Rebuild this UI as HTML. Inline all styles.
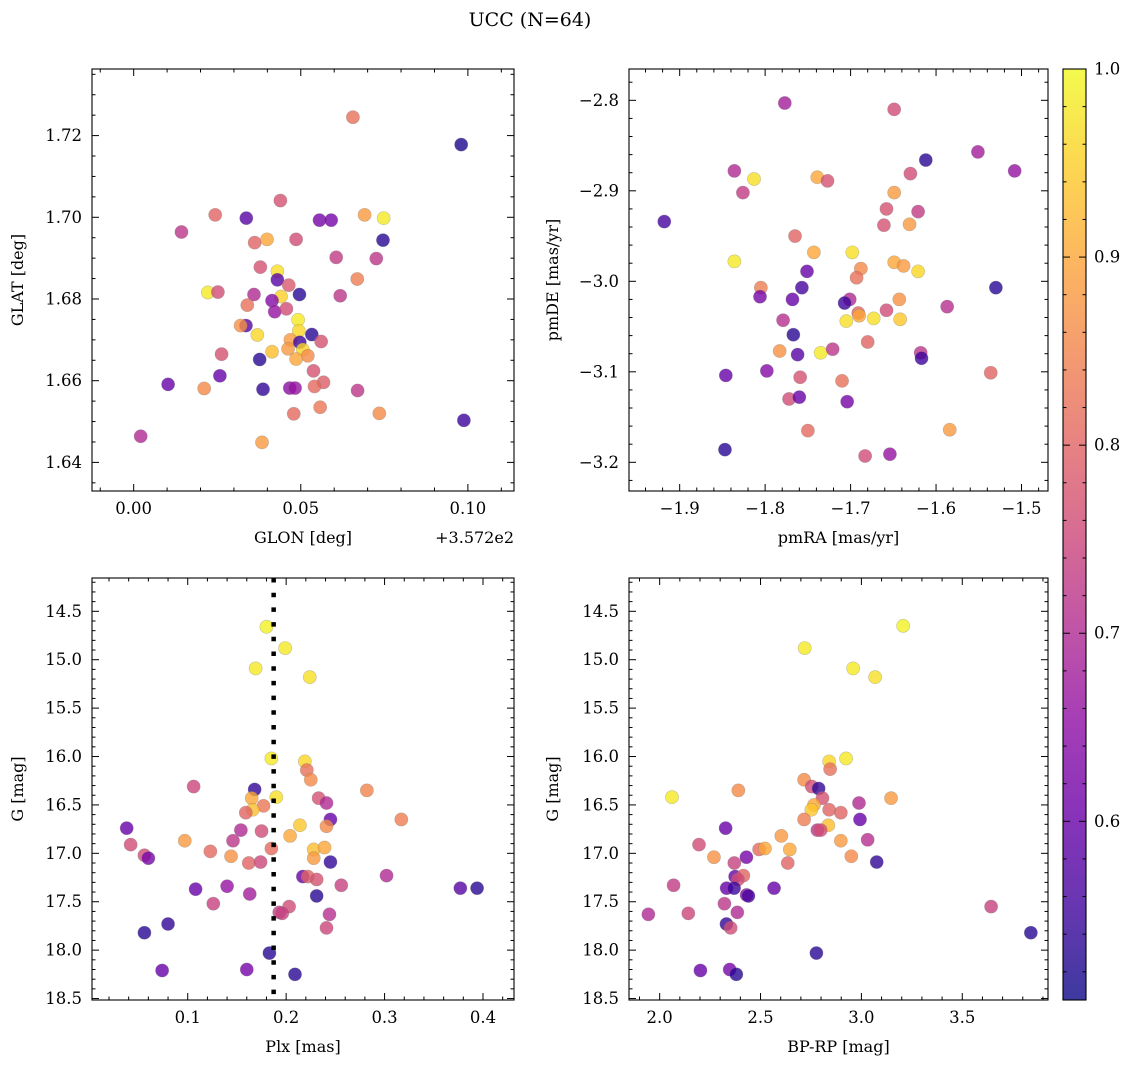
<!DOCTYPE html>
<html><head><meta charset="utf-8"><style>
html,body{margin:0;padding:0;background:#fff}
svg text{font-family:"DejaVu Serif","Liberation Serif",serif;fill:#000}
</style></head><body>
<svg id="fig" width="1135" height="1068" xmlns="http://www.w3.org/2000/svg">
<defs><linearGradient id="cbgrad" x1="0" y1="1" x2="0" y2="0">
<stop offset="0" stop-color="#0d0887"/><stop offset="0.1" stop-color="#41049d"/><stop offset="0.2" stop-color="#6a00a8"/><stop offset="0.3" stop-color="#8f0da4"/><stop offset="0.4" stop-color="#b12a90"/><stop offset="0.5" stop-color="#cc4778"/><stop offset="0.6" stop-color="#e16462"/><stop offset="0.7" stop-color="#f2844b"/><stop offset="0.8" stop-color="#fca636"/><stop offset="0.9" stop-color="#fcce25"/><stop offset="1" stop-color="#f0f921"/>
</linearGradient></defs>
<text x="530" y="26" font-size="19" text-anchor="middle">UCC (N=64)</text>
</svg>
<script>
// Panel 1: GLON offset (+357.2), GLAT
const p1X=[.0656,.098,.0439,.0244,.0337,.0556,.0591,.0691,.0748,.0143,.0362,.0399,.0486,.0746,.0606,.0726,.0379,.043,.043,.0464,.0669,.0222,.0252,.036,.0441,.0496,.0618,.0414,.034,.0422,.0457,.0492,.0336,.032,.037,.0494,.0533,.0469,.0561,.0497,.0462,.0506,.0414,.0263,.0521,.0486,.0377,.0538,.0258,.0103,.0568,.0541,.0211,.0387,.0467,.0483,.067,.0479,.0558,.0735,.0988,.0021,.0384];
const p1Y=[1.7245,1.7178,1.7041,1.7006,1.6998,1.6993,1.6993,1.7006,1.6998,1.6964,1.6938,1.6946,1.6946,1.6944,1.6902,1.6899,1.6878,1.6868,1.6847,1.6834,1.6849,1.6816,1.6817,1.6811,1.6806,1.6811,1.6808,1.6796,1.6785,1.6769,1.6776,1.6749,1.6735,1.6735,1.6712,1.6722,1.6713,1.67,1.6696,1.6694,1.6678,1.6676,1.6671,1.6665,1.6661,1.6653,1.6652,1.6624,1.6612,1.6591,1.6596,1.6586,1.6581,1.6579,1.6582,1.6582,1.6576,1.6519,1.6535,1.652,1.6503,1.6464,1.6449];
const p1C=[.82,.52,.77,.8,.58,.62,.62,.88,.98,.72,.8,.9,.76,.53,.73,.72,.77,.97,.58,.78,.84,.98,.76,.7,.95,.53,.72,.64,.82,.66,.76,.98,.58,.87,.96,.96,.53,.88,.77,.55,.88,.96,.93,.77,.86,.9,.53,.77,.6,.6,.79,.81,.86,.54,.65,.66,.72,.81,.83,.86,.55,.7,.88];
// Panel 2: pmRA, pmDE
const p2X=[-1.777,-1.649,-1.551,-1.612,-1.508,-1.836,-1.813,-1.739,-1.727,-1.826,-1.630,-1.649,-1.918,-1.658,-1.621,-1.661,-1.631,-1.765,-1.743,-1.698,-1.836,-1.649,-1.638,-1.621,-1.688,-1.751,-1.693,-1.805,-1.757,-1.530,-1.806,-1.768,-1.701,-1.707,-1.643,-1.587,-1.691,-1.690,-1.658,-1.705,-1.673,-1.642,-1.779,-1.767,-1.783,-1.762,-1.735,-1.721,-1.680,-1.618,-1.617,-1.846,-1.798,-1.759,-1.536,-1.710,-1.772,-1.760,-1.704,-1.750,-1.584,-1.847,-1.683,-1.654];
const p2Y=[-2.803,-2.810,-2.857,-2.866,-2.878,-2.878,-2.887,-2.885,-2.889,-2.902,-2.881,-2.902,-2.934,-2.920,-2.923,-2.938,-2.937,-2.950,-2.968,-2.968,-2.978,-2.979,-2.983,-2.989,-2.986,-2.989,-2.996,-3.007,-3.007,-3.007,-3.017,-3.020,-3.020,-3.024,-3.020,-3.028,-3.035,-3.038,-3.032,-3.044,-3.041,-3.042,-3.043,-3.059,-3.077,-3.081,-3.079,-3.075,-3.067,-3.079,-3.085,-3.104,-3.099,-3.106,-3.101,-3.110,-3.130,-3.128,-3.133,-3.165,-3.164,-3.186,-3.193,-3.191];
const p2C=[.68,.76,.68,.53,.66,.7,.97,.9,.77,.73,.76,.88,.56,.77,.73,.77,.88,.8,.9,.97,.98,.9,.88,.96,.86,.6,.82,.84,.56,.53,.62,.6,.7,.55,.87,.71,.8,.9,.76,.97,.97,.94,.71,.53,.87,.58,.98,.72,.8,.72,.55,.6,.64,.77,.8,.82,.76,.6,.62,.81,.88,.53,.76,.66];
// Panel 3: Plx, G
const p3X=[.180,.199,.169,.224,.185,.219,.221,.225,.106,.168,.282,.190,.165,.233,.241,.177,.166,.159,.245,.317,.038,.214,.241,.154,.175,.204,.097,.146,.042,.185,.228,.239,.123,.144,.056,.060,.228,.162,.174,.245,.302,.217,.222,.231,.256,.108,.140,.163,.377,.394,.231,.126,.203,.193,.196,.244,.241,.080,.056,.183,.074,.160,.209];
const p3Y=[14.66,14.88,15.09,15.18,16.02,16.05,16.14,16.24,16.31,16.34,16.35,16.42,16.43,16.43,16.48,16.51,16.55,16.58,16.65,16.65,16.74,16.71,16.72,16.76,16.77,16.82,16.87,16.87,16.91,16.95,16.96,16.94,16.98,17.03,17.02,17.05,17.05,17.10,17.09,17.09,17.23,17.24,17.24,17.27,17.33,17.37,17.34,17.42,17.36,17.36,17.44,17.52,17.55,17.61,17.62,17.63,17.77,17.73,17.82,18.03,18.21,18.20,18.25];
const p3C=[.99,.98,.98,.97,.98,.96,.82,.86,.75,.54,.85,.97,.9,.77,.7,.83,.93,.8,.6,.84,.6,.94,.86,.7,.76,.9,.88,.72,.76,.81,.93,.9,.81,.87,.76,.62,.88,.8,.75,.54,.7,.6,.8,.77,.74,.6,.66,.68,.58,.53,.53,.74,.76,.73,.74,.71,.75,.54,.53,.53,.6,.62,.53];
const plxLine=[0.1873];
// Panel 4: BP-RP, G
const p4X=[3.207,2.719,2.959,3.068,2.840,2.924,2.845,2.716,2.754,2.788,2.390,2.061,2.807,3.147,2.988,2.765,2.752,2.840,2.898,2.716,2.993,2.327,2.836,2.782,2.798,2.603,2.898,3.031,2.195,2.493,2.522,2.645,2.269,2.430,2.950,2.370,2.635,3.076,2.374,2.415,2.388,2.069,2.332,2.369,2.567,2.431,2.440,2.321,1.944,2.142,2.385,3.643,2.331,2.352,3.840,2.777,2.202,2.347,2.380];
const p4Y=[14.65,14.88,15.09,15.18,16.05,16.02,16.13,16.24,16.31,16.33,16.35,16.42,16.43,16.43,16.48,16.5,16.55,16.55,16.58,16.65,16.65,16.74,16.71,16.76,16.76,16.82,16.87,16.86,16.91,16.96,16.95,16.96,17.04,17.04,17.03,17.10,17.10,17.09,17.24,17.23,17.27,17.33,17.36,17.36,17.36,17.43,17.44,17.52,17.63,17.62,17.61,17.55,17.73,17.77,17.82,18.03,18.21,18.20,18.25];
const p4C=[.99,.98,.98,.97,.96,.98,.82,.86,.76,.54,.86,.98,.77,.88,.7,.9,.94,.8,.8,.84,.6,.6,.93,.72,.76,.88,.88,.71,.76,.81,.9,.9,.87,.62,.86,.74,.8,.54,.6,.8,.76,.73,.6,.55,.6,.65,.56,.72,.7,.75,.7,.74,.54,.76,.53,.53,.6,.62,.53];
const cbTicks=[0.6,0.7,0.8,0.9,1.0];
const VMIN=0.505,VMAX=1.0;

const NS="http://www.w3.org/2000/svg";
const svg=document.getElementById('fig');
const stops=[[13,8,135],[65,4,157],[106,0,168],[143,13,164],[177,42,144],[204,71,120],[225,100,98],[242,132,75],[252,166,54],[252,206,37],[240,249,33]];
function plasma(v){let t=Math.max(0,Math.min(1,(v-VMIN)/(VMAX-VMIN)))*10;let i=Math.min(9,Math.floor(t)),f=t-i;const a=stops[i],b=stops[i+1];return 'rgb('+a.map((c,k)=>Math.round(c+(b[k]-c)*f)).join(',')+')';}
function mk(tag,attrs,parent){const e=document.createElementNS(NS,tag);for(const k in attrs)e.setAttribute(k,attrs[k]);(parent||svg).appendChild(e);return e;}
function fmt(v,d){let s=v.toFixed(d);return s.replace('-','\u2212');}
const FS=16.5;

function panel(cfg){
  const g=mk('g',{});
  
  
  const {L,T,R,B,x0,x1,y0,y1}=cfg;
  const sx=v=>L+(v-x0)/(x1-x0)*(R-L);
  const sy=v=>cfg.invert? T+(v-y0)/(y1-y0)*(B-T) : B-(v-y0)/(y1-y0)*(B-T);
  for(let i=0;i<cfg.xs.length;i++){
    const c=mk('circle',{cx:sx(cfg.xs[i]),cy:sy(cfg.ys[i]),r:6.6,fill:plasma(cfg.cs[i]),'fill-opacity':0.8,stroke:'#777','stroke-opacity':0.4,'stroke-width':0.6},g);
    
    
  }
  if(cfg.vline){const vx=sx(cfg.vline[0]);const ln=mk('line',{x1:vx,x2:vx,y1:T,y2:B,stroke:'#000','stroke-width':4.5,'stroke-dasharray':'4.5 10.2'},g);
    }
  const fr=mk('rect',{x:L,y:T,width:R-L,height:B-T,fill:'none',stroke:'#000','stroke-width':1.1},g);
  
  const xt=mk('g',{},g);
  for(let v=Math.ceil(x0/cfg.xmin-1e-6)*cfg.xmin;v<=x1+1e-9;v+=cfg.xmin){
    const px=sx(v);const isMaj=Math.abs(v/cfg.xmaj-Math.round(v/cfg.xmaj))<1e-4;const len=isMaj?7:3.5;
    mk('line',{x1:px,x2:px,y1:B,y2:B-len,stroke:'#000','stroke-width':1},xt);
    mk('line',{x1:px,x2:px,y1:T,y2:T+len,stroke:'#000','stroke-width':1},xt);
    if(isMaj){const t=mk('text',{x:px,y:B+23,'font-size':FS,'text-anchor':'middle'},xt);t.textContent=fmt(v,cfg.xd);
      }
  }
  const yt=mk('g',{},g);
  for(let v=Math.ceil(y0/cfg.ymin-1e-6)*cfg.ymin;v<=y1+1e-9;v+=cfg.ymin){
    const py=sy(v);const isMaj=Math.abs(v/cfg.ymaj-Math.round(v/cfg.ymaj))<1e-4;const len=isMaj?7:3.5;
    mk('line',{x1:L,x2:L+len,y1:py,y2:py,stroke:'#000','stroke-width':1},yt);
    mk('line',{x1:R,x2:R-len,y1:py,y2:py,stroke:'#000','stroke-width':1},yt);
    if(isMaj){const t=mk('text',{x:L-10,y:py+5.5,'font-size':FS,'text-anchor':'end'},yt);t.textContent=fmt(v,cfg.yd);
      }
  }
  const xl=mk('text',{x:(L+R)/2,y:B+52,'font-size':16,'text-anchor':'middle'},g);xl.textContent=cfg.xlab;
  
  const yl=mk('text',{x:0,y:0,'font-size':16,'text-anchor':'middle',transform:`translate(${cfg.ylx},${(T+B)/2}) rotate(-90)`},g);yl.textContent=cfg.ylab;
  
  if(cfg.offset){const o=mk('text',{x:R,y:B+52,'font-size':16,'text-anchor':'end'},g);o.textContent=cfg.offset;
    }
}
panel({name:'glon-glat-panel',L:92,T:69,R:514,B:491,x0:-0.01247,x1:0.1138,y0:1.633,y1:1.7363,xmaj:0.05,xmin:0.01,ymaj:0.02,ymin:0.005,xd:2,yd:2,xs:p1X,ys:p1Y,cs:p1C,xlab:'GLON [deg]',ylab:'GLAT [deg]',ylx:23,offset:'+3.572e2'});
panel({name:'pm-panel',L:629,T:69,R:1048,B:491,x0:-1.9593,x1:-1.469,y0:-3.2317,y1:-2.7654,xmaj:0.1,xmin:0.02,ymaj:0.1,ymin:0.02,xd:1,yd:1,xs:p2X,ys:p2Y,cs:p2C,xlab:'pmRA [mas/yr]',ylab:'pmDE [mas/yr]',ylx:558});
panel({name:'plx-g-panel',L:92,T:578,R:514,B:1000,x0:0.00274,x1:0.4315,y0:14.156,y1:18.515,invert:true,xmaj:0.1,xmin:0.02,ymaj:0.5,ymin:0.1,xd:1,yd:1,xs:p3X,ys:p3Y,cs:p3C,vline:plxLine,xlab:'Plx [mas]',ylab:'G [mag]',ylx:23});
panel({name:'cmd-panel',L:629,T:578,R:1048,B:1000,x0:1.848,x1:3.925,y0:14.156,y1:18.515,invert:true,xmaj:0.5,xmin:0.1,ymaj:0.5,ymin:0.1,xd:1,yd:1,xs:p4X,ys:p4Y,cs:p4C,xlab:'BP-RP [mag]',ylab:'G [mag]',ylx:558});
const cb=mk('g',{});
const cbr=mk('rect',{x:1063,y:69,width:23,height:931,fill:'url(#cbgrad)','fill-opacity':0.8},cb);

mk('rect',{x:1063,y:69,width:23,height:931,fill:'none',stroke:'#000','stroke-width':1.1},cb);
const cy=v=>1000-(v-VMIN)/(VMAX-VMIN)*931;
for(let v=0.52;v<=1.0001;v+=0.02){const p=cy(v);const maj=cbTicks.some(t=>Math.abs(t-v)<1e-4);
  mk('line',{x1:1086,x2:1086-(maj?7:3.5),y1:p,y2:p,stroke:'#000','stroke-width':1},cb);
  mk('line',{x1:1063,x2:1063+(maj?7:3.5),y1:p,y2:p,stroke:'#000','stroke-width':1},cb);}
cbTicks.forEach(v=>{const t=mk('text',{x:1094,y:cy(v)+5.5,'font-size':FS},cb);t.textContent=v.toFixed(1);
  });
</script>
</body></html>
